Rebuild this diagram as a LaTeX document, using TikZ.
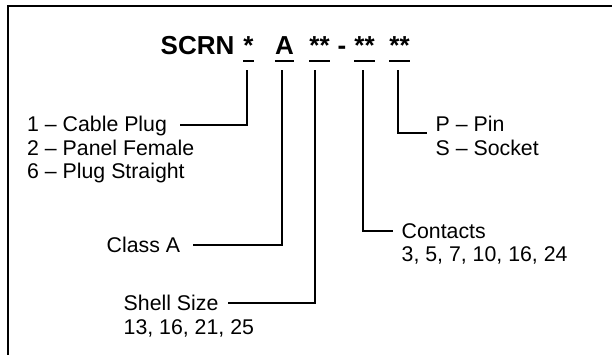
\documentclass[tikz,border=0pt]{standalone}
\usepackage{fontspec}
\setmainfont{Liberation Sans}
\begin{document}
\begin{tikzpicture}[x=1pt,y=-1pt,
  lbl/.style={inner sep=0pt, anchor=base west, text height=14pt, text depth=0pt, font=\fontsize{21.3}{24}\selectfont},
  tok/.style={inner sep=0pt, anchor=base, text depth=6pt, font=\fontsize{26}{30}\selectfont\bfseries},
  uline/.style={line width=2pt},
  conn/.style={line width=1.6pt},
  frame/.style={line width=2.2pt}]
\useasboundingbox (0,0) rectangle (612,355);
\draw[frame] (7.8,357) -- (7.8,6) -- (614,6);
% title
\node[tok] (scrn) at (197.5,55) {SCRN};
\node[tok] (t1) at (248.5,55) {*};
\node[tok] (t2) at (284.5,55) {A};
\node[tok] (t3) at (319.5,55) {**};
\node[tok] (dash) at (342,55) {-};
\node[tok] (t4) at (364.5,55) {**};
\node[tok] (t5) at (399.5,55) {**};
\foreach \t in {t1,t2,t3,t4,t5}
  \draw[uline] (\t.south west) -- (\t.south east);
% labels
\node[lbl] (c1) at (27,132) {1 – Cable Plug};
\node[lbl] (c2) at (27,155.5) {2 – Panel Female};
\node[lbl] (c3) at (27,179) {6 – Plug Straight};
\node[lbl] (cls) at (106.5,252) {Class A};
\node[lbl] (sh1) at (123.5,310) {Shell Size};
\node[lbl] (sh2) at (123.5,334) {13, 16, 21, 25};
\node[lbl] (ct1) at (401.5,238) {Contacts};
\node[lbl] (ct2) at (401.5,261.5) {3, 5, 7, 10, 16, 24};
\node[lbl] (p1) at (435.5,132) {P – Pin};
\node[lbl] (p2) at (435.5,155.5) {S – Socket};
% connectors
\draw[conn] ([xshift=-1.5pt,yshift=-9pt]t1.south) |- ([xshift=13pt]c1.east);
\draw[conn] ([xshift=-2.5pt,yshift=-9pt]t2.south) |- ([xshift=13pt]cls.east);
\draw[conn] ([xshift=-4.5pt,yshift=-9pt]t3.south) |- ([xshift=9pt]sh1.east);
\draw[conn] ([xshift=-1.5pt,yshift=-9pt]t4.south) |- ([xshift=-8.5pt]ct1.west);
\draw[conn] ([xshift=-1.5pt,yshift=-9pt]t5.south) |- ([xshift=-8.5pt,yshift=-8pt]p1.west);
\end{tikzpicture}
\end{document}
